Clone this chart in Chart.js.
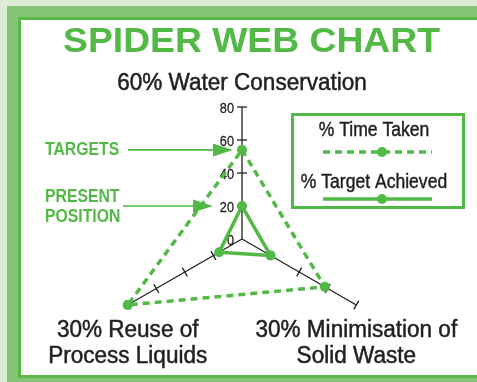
<!DOCTYPE html>
<html><head><meta charset="utf-8">
<script src="https://cdn.jsdelivr.net/npm/chart.js@4/dist/chart.umd.min.js"></script>
<style>
html,body{margin:0;padding:0;width:477px;height:382px;overflow:hidden;background:#dcecd5;}
#frame{position:absolute;left:7px;top:6px;width:520px;height:376px;background:#84c673;}
#panel{position:absolute;left:11px;top:11px;width:500px;height:355px;background:#fff;border:3px solid #58b947;}
#c{position:absolute;left:0;top:0;}
</style></head>
<body>
<div id="frame"><div id="panel"></div></div>
<canvas id="c" width="477" height="382"></canvas>
<script>
// ---- data ----
const categories = [["60% Water Conservation"], ["30% Minimisation of", "Solid Waste"], ["30% Reuse of", "Process Liquids"]];
const seriesNames = ["% Time Taken", "% Target Achieved"];
const timeTaken = [54, 58, 80];
const targetAchieved = [20, 20, 16];
const tickValues = [0, 20, 40, 60, 80];
const chartTitle = "SPIDER WEB CHART";
const targetsNote = ["TARGETS"];
const presentNote = ["PRESENT", "POSITION"];

// ---- styles ----
const GREEN = '#52b947';
const INK = '#231f20';

function txt(ctx, s, x, y, font, color, align, sx, heavy) {
  ctx.save();
  ctx.font = font; ctx.fillStyle = color;
  ctx.textAlign = align || 'center'; ctx.textBaseline = 'alphabetic';
  ctx.translate(x, y); ctx.scale(sx || 1, 1);
  ctx.fillText(s, 0, 0);
  if (heavy) { ctx.strokeStyle = color; ctx.lineWidth = heavy; ctx.lineJoin = 'round'; ctx.strokeText(s, 0, 0); }
  ctx.restore();
}
function arrow(ctx, x0, x1, y) {
  ctx.save();
  ctx.strokeStyle = GREEN; ctx.fillStyle = GREEN; ctx.lineWidth = 1.6;
  ctx.beginPath(); ctx.moveTo(x0, y); ctx.lineTo(x1 - 18, y); ctx.stroke();
  ctx.beginPath(); ctx.moveTo(x1, y); ctx.lineTo(x1 - 20, y - 6.5); ctx.lineTo(x1 - 20, y + 6.5); ctx.closePath(); ctx.fill();
  ctx.restore();
}

const decor = {
  id: 'decor',
  beforeDatasetsDraw(chart) {
    const r = chart.scales.r, ctx = chart.ctx;
    ctx.save();
    ctx.strokeStyle = INK; ctx.lineWidth = 1.3;
    for (let i = 0; i < categories.length; i++) {
      const a = r.getIndexAngle(i) - Math.PI / 2;
      const px = -Math.sin(a), py = Math.cos(a);
      tickValues.forEach(v => {
        if (v === 0) return;
        const p = r.getPointPositionForValue(i, v);
        ctx.beginPath();
        ctx.moveTo(p.x - 5 * px, p.y - 5 * py);
        ctx.lineTo(p.x + 5 * px, p.y + 5 * py);
        ctx.stroke();
      });
    }
    ctx.restore();
    tickValues.forEach(v => {
      const p = r.getPointPositionForValue(0, v);
      txt(ctx, String(v), p.x - 8, p.y + 5.5, '15.5px "Liberation Sans", Arial, sans-serif', INK, 'right', 0.82, 0.3);
    });
  },
  afterDraw(chart) {
    const r = chart.scales.r, ctx = chart.ctx;
    // title
    txt(ctx, chartTitle, 251.5, 52, 'bold 35px "Liberation Sans", Arial, sans-serif', GREEN, 'center', 1.065);
    // category labels
    categories.forEach((lines, i) => {
      const p = r.getPointPositionForValue(i, r.max);
      const f = '23px "Liberation Sans", Arial, sans-serif';
      if (p.y < r.yCenter) {
        lines.slice().reverse().forEach((s, k) => txt(ctx, s, p.x, p.y - 17 - 26 * k, f, INK, 'center', 0.98, 0.5));
      } else {
        lines.forEach((s, k) => txt(ctx, s, p.x, p.y + 32 + 26 * k, f, INK, 'center', 0.98, 0.5));
      }
    });
    // notes with arrows
    const nf = 'bold 19px "Liberation Sans", Arial, sans-serif';
    const pt = r.getPointPositionForValue(0, timeTaken[0]);
    targetsNote.forEach((s, k) => txt(ctx, s, 45, pt.y + 5 + 20 * k, nf, GREEN, 'left', 0.83));
    arrow(ctx, 128, pt.x - 9, pt.y);
    const pp = r.getPointPositionForValue(0, targetAchieved[0]);
    presentNote.forEach((s, k) => txt(ctx, s, 45, pp.y - 4 + 20 * k, nf, GREEN, 'left', 0.83));
    arrow(ctx, 123, pp.x - 29, pp.y);
    // legend
    ctx.save();
    ctx.strokeStyle = GREEN; ctx.lineWidth = 3;
    ctx.strokeRect(292.5, 114.5, 171, 93);
    ctx.restore();
    const lf = '19.5px "Liberation Sans", Arial, sans-serif';
    const rows = [{ty: 136, ly: 152}, {ty: 188, ly: 199}];
    chart.data.datasets.forEach((ds, k) => {
      txt(ctx, ds.label, 374, rows[k].ty, lf, INK, 'center', 0.9, 0.45);
      ctx.save();
      ctx.strokeStyle = ds.borderColor; ctx.lineWidth = ds.borderWidth;
      ctx.setLineDash(ds.borderDash || []);
      ctx.beginPath(); ctx.moveTo(323, rows[k].ly); ctx.lineTo(432, rows[k].ly); ctx.stroke();
      ctx.setLineDash([]);
      ctx.fillStyle = ds.pointBackgroundColor;
      ctx.beginPath(); ctx.arc(382, rows[k].ly, ds.pointRadius, 0, Math.PI * 2); ctx.fill();
      ctx.restore();
    });
  }
};

new Chart(document.getElementById('c'), {
  type: 'radar',
  data: {
    labels: categories,
    datasets: [
      { label: seriesNames[0], data: timeTaken, borderColor: GREEN, borderWidth: 3.5, borderDash: [7, 5],
        pointRadius: 5, pointBackgroundColor: GREEN, pointBorderWidth: 0, fill: false, backgroundColor: 'transparent' },
      { label: seriesNames[1], data: targetAchieved, borderColor: GREEN, borderWidth: 3.5,
        pointRadius: 5, pointBackgroundColor: GREEN, pointBorderWidth: 0, fill: false, backgroundColor: 'transparent' }
    ]
  },
  options: {
    responsive: false, animation: false,
    layout: { padding: { left: 110, right: 103, top: 107, bottom: 11 } },
    plugins: { legend: { display: false }, tooltip: { enabled: false }, title: { display: false } },
    scales: {
      r: {
        min: 0, max: 80,
        ticks: { display: false, stepSize: 20 },
        grid: { display: false },
        angleLines: { display: true, color: INK, lineWidth: 1.3 },
        pointLabels: { display: false }
      }
    }
  },
  plugins: [decor]
});
</script>
</body></html>
